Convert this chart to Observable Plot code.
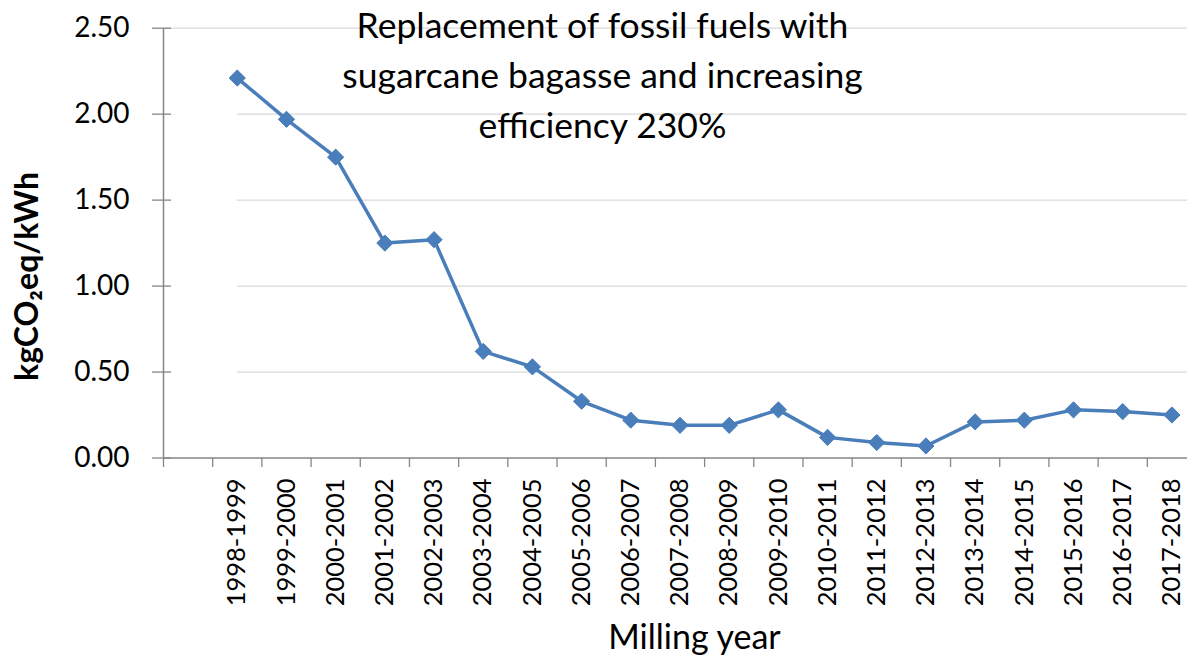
<!DOCTYPE html>
<html>
<head>
<meta charset="utf-8">
<script src="https://cdn.jsdelivr.net/npm/d3@7"></script>
<script src="https://cdn.jsdelivr.net/npm/@observablehq/plot@0.6"></script>
<style>
  html, body { margin: 0; padding: 0; background: #fff; overflow: hidden; }
  #chart svg { overflow: hidden; display: block; }
</style>
</head>
<body>
<div id="chart"></div>
<script>
// Categories (first slot is an empty category in the original chart)
const categories = ["", "1998-1999", "1999-2000", "2000-2001", "2001-2002", "2002-2003", "2003-2004",
  "2004-2005", "2005-2006", "2006-2007", "2007-2008", "2008-2009", "2009-2010", "2010-2011",
  "2011-2012", "2012-2013", "2013-2014", "2014-2015", "2015-2016", "2016-2017", "2017-2018"];
// Series values (kgCO2eq/kWh), null for the empty category
const values = [null, 2.21, 1.97, 1.75, 1.25, 1.27, 0.62, 0.53, 0.33, 0.22, 0.19, 0.19, 0.28,
  0.12, 0.09, 0.07, 0.21, 0.22, 0.28, 0.27, 0.25];
const yTicks = [0, 0.5, 1.0, 1.5, 2.0, 2.5];
const titleText = "Replacement of fossil fuels with\nsugarcane bagasse and increasing\nefficiency 230%";
const yLabel = "kgCO₂eq/kWh";
const xLabel = "Milling year";

const data = categories.map((c, i) => ({cat: c, pos: i + 0.5, value: values[i]}))
  .filter(d => d.value !== null);
const firstPos = data[0].pos;
const nSlots = categories.length;
const boundaries = d3.range(0, nSlots + 1);
const labelPositions = categories.map((c, i) => i + 0.5);

const font = "Lato, 'Open Sans', sans-serif";
const axisColor = "#868686";
const gridColor = "#d9d9d9";
const lineColor = "#4a7ebb";

const plot = Plot.plot({
  width: 1187,
  height: 660,
  marginLeft: 163,
  marginRight: 0,
  marginTop: 28,
  marginBottom: 202,
  style: {fontFamily: font, background: "#fff"},
  x: {type: "linear", domain: [0, nSlots], range: [163, 1196]},
  y: {domain: [0, 2.5], range: [457.5, 27.7]},
  marks: [
    // gridlines
    Plot.ruleY(yTicks.filter(v => v > 0), {
      x1: v => v === 2.5 ? 0 : firstPos, x2: nSlots, stroke: gridColor, strokeWidth: 1.3
    }),
    // y tick marks crossing the axis
    Plot.axisY({ticks: yTicks, tickSize: 19, dx: 8, tickFormat: () => "", stroke: axisColor, strokeWidth: 1.3, label: null}),
    // y tick labels
    Plot.axisY({ticks: yTicks, tickSize: 0, tickPadding: 34, tickFormat: d3.format(".2f"),
      fontSize: 28, fill: "#000", label: null}),
    // x tick marks at category boundaries
    Plot.axisX({ticks: boundaries, tickSize: 9, tickFormat: () => "", stroke: axisColor, strokeWidth: 1.3, label: null}),
    // x category labels
    Plot.axisX({ticks: labelPositions, tickSize: 0, tickPadding: 20, tickRotate: -90,
      tickFormat: (d) => categories[Math.round(d - 0.5)], fontSize: 25.5, fill: "#000", label: null}),
    // axis lines
    Plot.ruleX([0], {stroke: axisColor, strokeWidth: 1.5}),
    Plot.ruleY([0], {x1: 0, x2: nSlots, stroke: axisColor, strokeWidth: 1.5}),
    // series
    Plot.line(data, {x: "pos", y: "value", stroke: lineColor, strokeWidth: 3.5}),
    Plot.dot(data, {x: "pos", y: "value", symbol: "diamond2", r: 7.3, fill: lineColor, stroke: lineColor, strokeWidth: 1}),
    // title inside plot area
    Plot.text([titleText], {frameAnchor: "top", lineAnchor: "top", dx: -73, dy: -26,
      fontSize: 35.5, lineHeight: 1.41, fill: "#000"}),
    // y axis label
    Plot.text([yLabel], {frameAnchor: "left", textAnchor: "middle", rotate: -90, dx: -136, dy: 33,
      fontSize: 32, fontWeight: "bold", fill: "#000"}),
    // x axis label
    Plot.text([xLabel], {frameAnchor: "bottom", lineAnchor: "middle", dx: 19, dy: 180,
      fontSize: 34, fill: "#000"})
  ]
});
document.getElementById("chart").appendChild(plot);
</script>
</body>
</html>
